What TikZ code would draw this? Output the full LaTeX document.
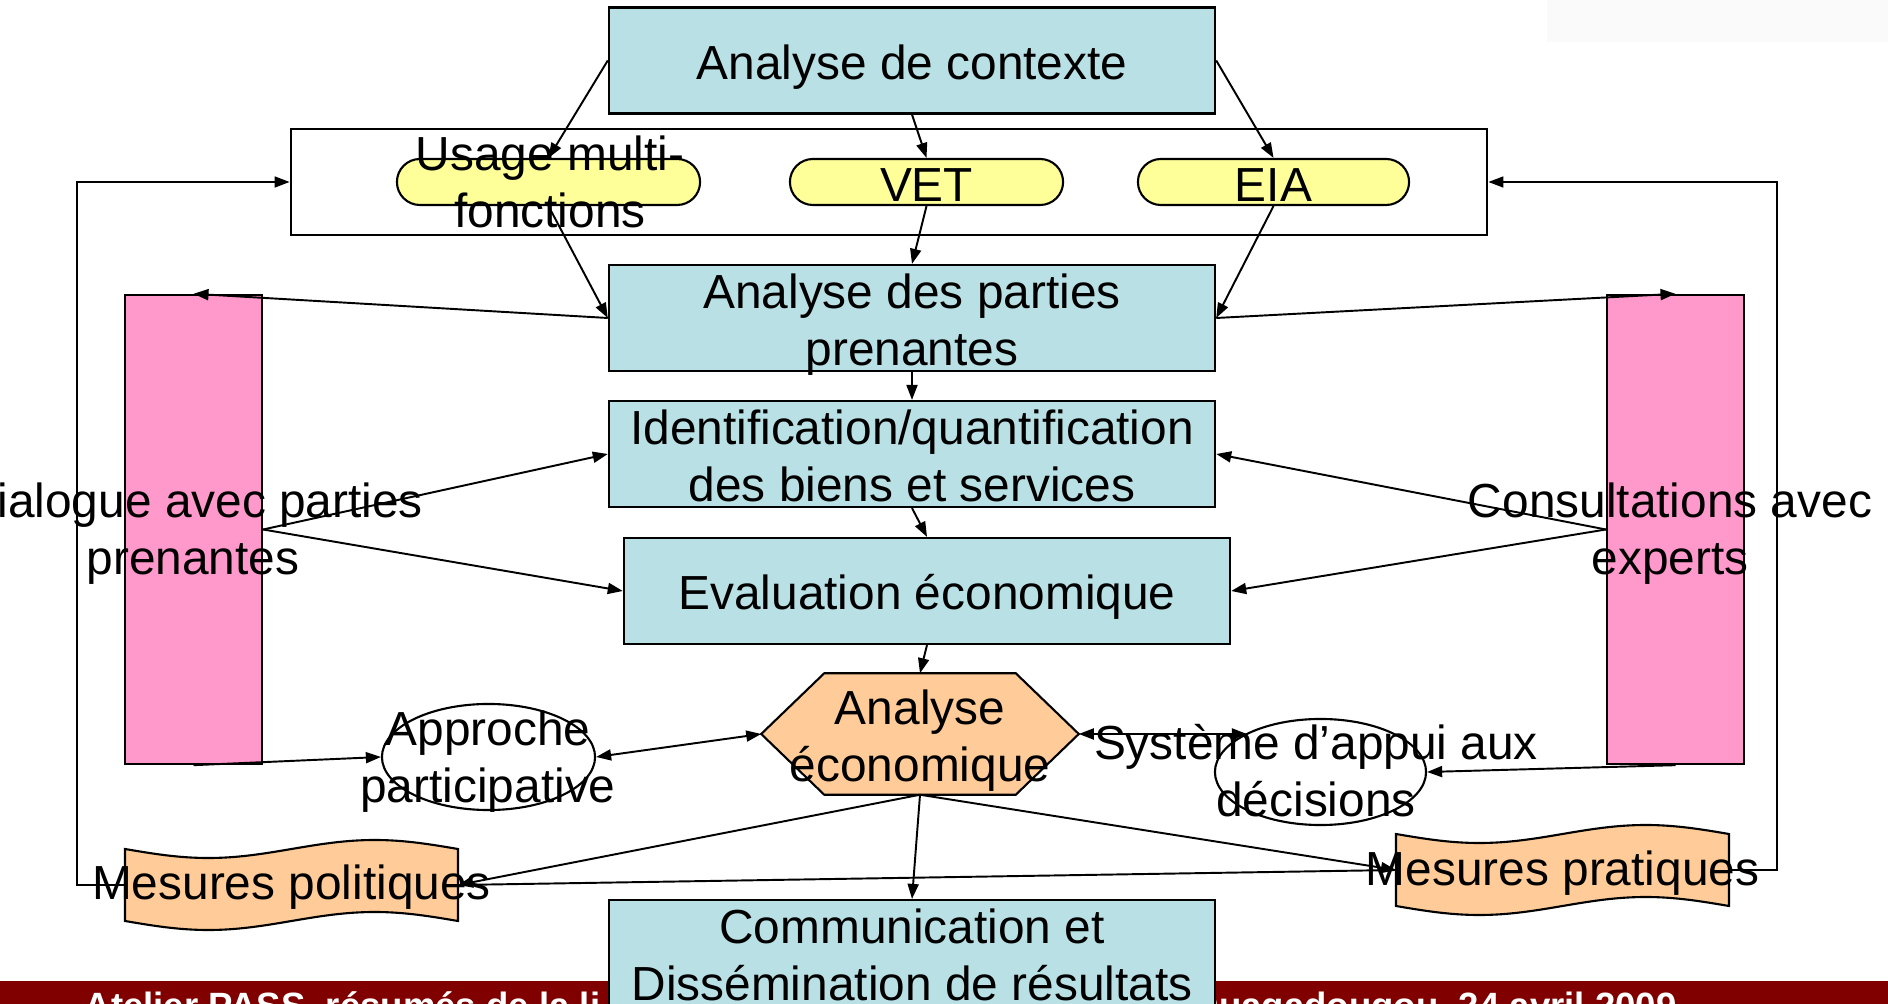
\documentclass[tikz,border=0pt]{standalone}
\usepackage{fontspec}
\setmainfont{Liberation Sans}
\usetikzlibrary{arrows.meta,shapes.geometric}

\definecolor{boxblue}{RGB}{185,224,228}
\definecolor{pinkbar}{RGB}{255,153,204}
\definecolor{peach}{RGB}{255,204,153}
\definecolor{pale}{RGB}{255,255,153}
\definecolor{footred}{RGB}{128,0,0}

% diagram font, with lines always one baselineskip apart
\newcommand\dgfont{\fontsize{13.6pt}{16.22pt}\selectfont\lineskiplimit=-20pt\relax}
% one text line: fixed ascent and descent so that centring is predictable
\newcommand\ls{\rule[-2.6pt]{0pt}{16.22pt}}

\begin{document}
\begin{tikzpicture}[x=0.01cm, y=-0.01cm,
  txt/.style={font=\dgfont, align=center, inner sep=0pt},
  foot/.style={font=\fontsize{10.4pt}{12pt}\selectfont\bfseries, text=white, inner sep=0pt},
  bx/.style={draw, line width=0.6pt, fill=boxblue, minimum width=6.06cm, minimum height=1.06cm, inner sep=0pt},
  stadium/.style={draw, line width=0.6pt, fill=pale, rounded corners=0.23cm, minimum height=0.46cm, inner sep=0pt},
  oval/.style={ellipse, draw, line width=0.6pt, minimum height=1.06cm, inner sep=0pt},
  bar/.style={draw, line width=0.6pt, fill=pinkbar, minimum width=1.37cm, minimum height=4.69cm, inner sep=0pt},
  conn/.style={line width=0.55pt, -{Triangle[length=0.15cm,width=0.11cm]}},
  bconn/.style={line width=0.55pt, {Triangle[length=0.15cm,width=0.11cm]}-{Triangle[length=0.15cm,width=0.11cm]}},
  loopline/.style={line width=0.45pt, -{Triangle[length=0.15cm,width=0.11cm]}},
  link/.style={line width=0.55pt},
  tape/.pic={
    \draw[line width=0.6pt, fill=peach]
      (0,9) sin (83.25,18) cos (166.5,9) sin (249.75,0) cos (333,9)
      -- (333,81) sin (249.75,72) cos (166.5,81) sin (83.25,90) cos (0,81) -- cycle;
    \coordinate (-w) at (0,45);
    \coordinate (-e) at (333,45);
  }
]
\useasboundingbox (0,0) rectangle (1888,1004);
\clip (0,0) rectangle (1888,1004);

% faint panel in the top right corner
\fill[black!2] (1547,0) rectangle (1888,42);

% footer band
\fill[footred] (0,981) rectangle (1888,1010);
\node[foot, anchor=base west] (footL) at (84,1018) {Atelier PASS, résumés de la li};
\node[foot, anchor=base west] (footR) at (1190,1018) {Ouagadougou, 24 avril 2009};

% container of the three approaches
\node[draw, line width=0.6pt, fill=white, minimum width=11.96cm, minimum height=1.06cm, inner sep=0pt] (cont) at (889,182) {};
\node[stadium, minimum width=3.03cm] (usage) at (548.5,182) {};
\node[stadium, minimum width=2.73cm] (vet) at (926.5,182) {};
\node[stadium, minimum width=2.71cm] (eia) at (1273.5,182) {};

% main column
\node[bx] (ctx) at (912,60.5) {};
\node[bx] (apart) at (912,318) {};
\node[bx] (ident) at (912,454) {};
\node[bx] (eval) at (927,591) {};
\node[bx] (comm) at (912,953) {};

% economic analysis hexagon
\node[minimum width=3.16cm, minimum height=1.2cm, inner sep=0pt] (hex) at (920,734) {};
\draw[line width=0.6pt, fill=peach] (hex.west) -- ([xshift=0.63cm]hex.north west)
  -- ([xshift=-0.63cm]hex.north east) -- (hex.east)
  -- ([xshift=-0.63cm]hex.south east) -- ([xshift=0.63cm]hex.south west) -- cycle;

% side bars
\node[bar] (pinkL) at (193.5,529.5) {};
\node[bar] (pinkR) at (1675.5,529.5) {};

% ellipses
\node[oval, minimum width=2.13cm] (appr) at (488.5,757) {};
\node[oval, minimum width=2.11cm] (sys) at (1320.5,772) {};

% measures
\pic (pol) at (125,840) {tape};
\pic (prat) at (1396,825) {tape};

% connectors
\draw[conn] (ctx.west) -- (usage.north);
\draw[conn] (ctx.south) -- (vet.north);
\draw[conn] (ctx.east) -- (eia.north);
\draw[conn] (usage.south) -- (apart.west);
\draw[conn] (vet.south) -- (apart.north);
\draw[conn] (eia.south) -- (apart.east);
\draw[conn] (apart.west) -- (pinkL.north);
\draw[conn] (apart.east) -- (pinkR.north);
\draw[conn] (apart.south) -- (ident.north);
\draw[conn] (pinkL.east) -- (ident.west);
\draw[conn] (pinkL.east) -- (eval.west);
\draw[conn] (pinkR.west) -- (ident.east);
\draw[conn] (pinkR.west) -- (eval.east);
\draw[conn] (ident.south) -- (eval.north);
\draw[conn] (eval.south) -- (hex.north);
\draw[conn] (pinkL.south) -- (appr.west);
\draw[conn] (pinkR.south) -- (sys.east);
\draw[bconn] (appr.east) -- (hex.west);
\draw[bconn] (hex.east) -- (hex.east -| sys.152);
\draw[conn] (hex.south) -- (pol-e);
\draw[conn] (hex.south) -- (comm.north);
\draw[conn] (hex.south) -- (prat-w);
\draw[link] (pol-e) -- (prat-w);
\draw[loopline] (pol-w) -- ++(-48,0) |- (cont.west);
\draw[loopline] (prat-e) -- ++(48,0) |- (cont.east);

% texts
\node[txt] (ctxT) at (ctx.center) {\ls Analyse de contexte};
\node[txt] (usT) at (550,180) {\ls Usage multi-\\\ls fonctions};
\node[txt] (vetT) at (vet.center) {\ls VET};
\node[txt] (eiaT) at (eia.center) {\ls EIA};
\node[txt] (apT) at (apart.center) {\ls Analyse des parties\\\ls prenantes};
\node[txt] (idT) at (ident.center) {\ls Identification/quantification\\\ls des biens et services};
\node[txt] (evT) at (eval.center) {\ls Evaluation économique};
\node[txt] (hexT) at (hex.center) {\ls Analyse\\\ls économique};
\node[txt] (comT) at (comm.center) {\ls Communication et\\\ls Dissémination de résultats};
\node[txt] (dlgT) at (193,527) {\ls Dialogue avec parties\\\ls prenantes};
\node[txt] (consT) at (1670,527) {\ls Consultations avec\\\ls experts};
\node[txt] (apprT) at (488,755) {\ls Approche\\\ls participative};
\node[txt] (sysT) at (1316,769) {\ls Système d’appui aux\\\ls décisions};
\node[txt] (polT) at (291.5,881) {\ls Mesures politiques};
\node[txt] (pratT) at (1562.5,867) {\ls Mesures pratiques};
\end{tikzpicture}
\end{document}
